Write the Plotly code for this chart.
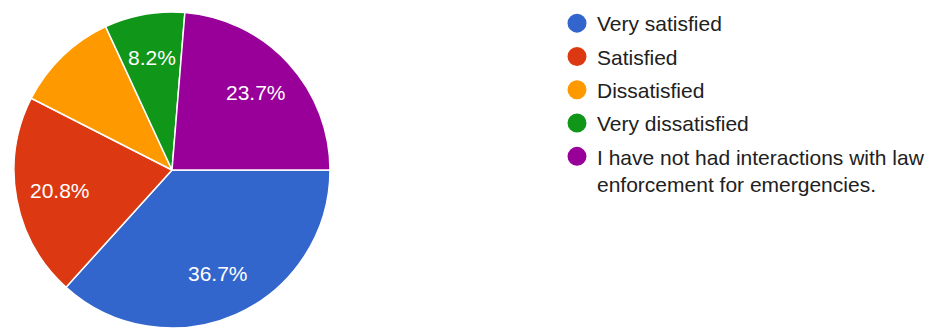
import numpy as np
import plotly.graph_objects as go

# Survey responses: satisfaction with law enforcement during emergencies
categories = [
    "Very satisfied",
    "Satisfied",
    "Dissatisfied",
    "Very dissatisfied",
    "I have not had interactions with law<br>enforcement for emergencies.",
]
shares = [36.7, 20.8, 10.6, 8.2, 23.7]
show_label = [True, True, False, True, True]
colors = ["#3366cc", "#dc3912", "#ff9900", "#109618", "#990099"]

W, H = 939, 328
FONT = "Arial, Liberation Sans, sans-serif"

# Pie placement (pixels) expressed as a domain
CX, TOP = 172, 12
R = (H - TOP) / 2
CY = TOP + R
START_DEG = 90  # first slice begins at 3 o'clock, running clockwise

fig = go.Figure()

fig.add_trace(go.Pie(
    labels=categories,
    values=shares,
    textinfo="none",
    marker=dict(colors=colors, line=dict(color="white", width=1.5)),
    sort=False,
    direction="clockwise",
    rotation=START_DEG,
    showlegend=False,
    hoverinfo="label+percent",
    domain=dict(x=[(CX - 172) / W, (CX + 172) / W], y=[0, 1 - TOP / H]),
))

# Percentage labels placed along each slice's mid-angle
vals = np.array(shares, dtype=float)
frac = vals / vals.sum()
ends = np.cumsum(frac) * 360.0
mids = START_DEG + ends - frac * 180.0
for m, f, show in zip(mids, frac, show_label):
    if not show:
        continue
    th = np.deg2rad(m)
    px = CX + 0.72 * R * np.sin(th)
    py = CY - 0.72 * R * np.cos(th)
    fig.add_annotation(
        x=px / W, y=1 - py / H, xref="paper", yref="paper",
        text=f"{f * 100:.1f}%", showarrow=False,
        xanchor="center", yanchor="middle",
        font=dict(color="white", size=21, family=FONT),
    )

# Legend entries with round markers, one group each for even spacing
for name, col in zip(categories, colors):
    fig.add_trace(go.Scatter(
        x=[None], y=[None], mode="markers", name=name, legendgroup=name,
        marker=dict(symbol="circle", size=16, color=col, line=dict(color=col, width=3)),
    ))

fig.update_layout(
    width=W, height=H,
    margin=dict(l=0, r=0, t=0, b=0),
    paper_bgcolor="white", plot_bgcolor="white",
    xaxis=dict(visible=False), yaxis=dict(visible=False),
    legend=dict(
        x=557 / W, xanchor="left", y=1 - 3 / H, yanchor="top",
        font=dict(size=21, family=FONT, color="#212121"),
        tracegroupgap=3, valign="top", bgcolor="rgba(0,0,0,0)",
    ),
)

fig.write_html("out.html")
